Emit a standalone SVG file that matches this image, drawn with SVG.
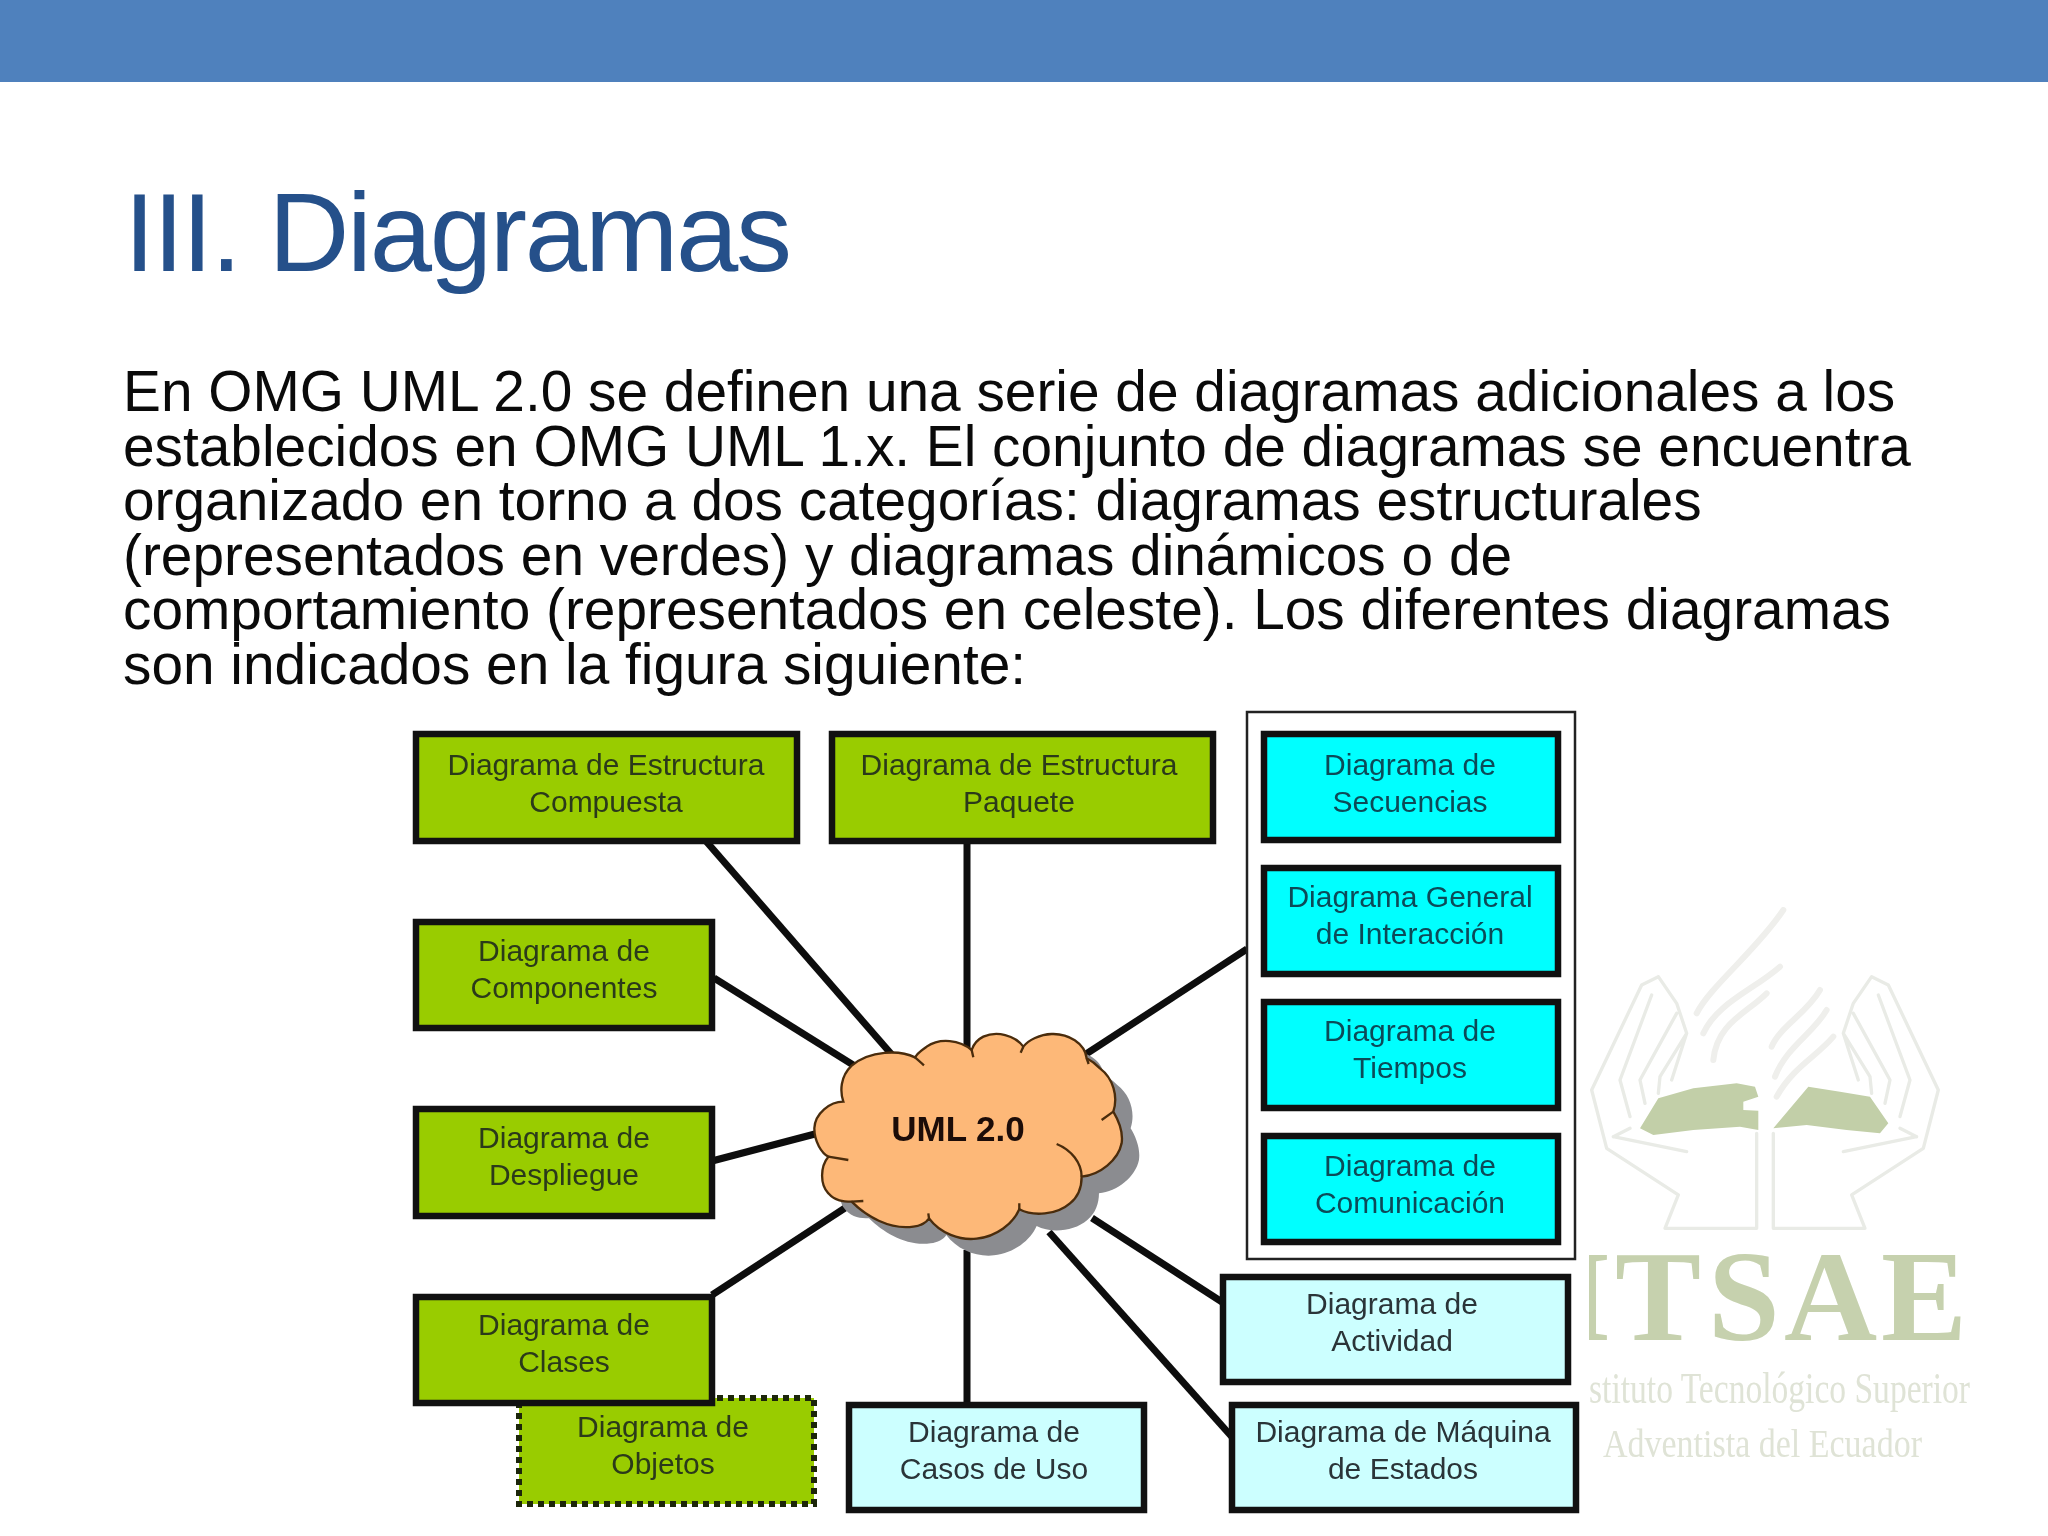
<svg xmlns="http://www.w3.org/2000/svg" width="2048" height="1536" viewBox="0 0 2048 1536">
<style>
.body{font:56.8px "Liberation Sans",Arial,sans-serif;fill:#0a0a0a}
.b{stroke:#111;stroke-width:6.5}
.g{fill:#99cc00}.c{fill:#00ffff}.l{fill:#ccffff}
.t{font:30px "Liberation Sans",Arial,sans-serif;text-anchor:middle;fill:#2b3a1a}
.tc{fill:#0c4a58}.tl{fill:#2a3438}
.con line{stroke:#0d0d0d;stroke-width:7}
.wm{fill:none;stroke:#e9ebe6;stroke-width:10;stroke-linejoin:round;stroke-linecap:round}
.fl{stroke:#efefec;stroke-width:18}
.wt{font-family:"Liberation Serif","Times New Roman",serif;fill:#dfe3d6}
</style>
<defs>
<path id="cloudShape" d="M215 197C180 230 180 275 190 305C150 305 105 340 103 385C103 425 125 460 145 470C120 500 120 555 145 580C165 603 190 605 215 605C260 650 330 690 400 680C420 678 440 668 447 655C480 700 540 722 590 716C650 710 700 670 718 628C760 650 830 645 870 610C895 590 905 560 905 530C960 525 1015 480 1025 430C1030 395 1015 360 1000 335C1015 290 1000 235 960 205C945 190 930 180 920 175C915 130 865 100 815 102C780 103 745 120 730 140C705 105 650 92 610 110C590 120 580 135 575 150C540 120 480 112 440 140C425 150 412 162 405 172C360 150 270 150 215 197Z"/>
<clipPath id="wmClip"><rect x="1589" y="1200" width="459" height="300"/></clipPath>
<filter id="soft" x="-10%" y="-10%" width="120%" height="120%"><feGaussianBlur stdDeviation="1.5"/></filter>
<g id="hand"><path class="wm" d="M530 700V985H255L295 885L80 745L35 570L185 255L235 230L290 310L320 400L275 540M215 285L120 540L150 650M290 340L180 540L195 610M320 400L240 530L235 580M100 710L320 755M100 710L150 685"/></g>
</defs>
<rect width="2048" height="1536" fill="#fff"/>
<rect id="header" width="2048" height="82" fill="#4f81bd"/>
<text id="title" x="124" y="271" font-family="Liberation Sans, Arial, sans-serif" font-size="112" textLength="668" lengthAdjust="spacing" fill="#25508a">III. Diagramas</text>
<g id="body">
<text class="body" x="123" y="411">En OMG UML 2.0 se definen una serie de diagramas adicionales a los</text>
<text class="body" x="123" y="465.6">establecidos en OMG UML 1.x. El conjunto de diagramas se encuentra</text>
<text class="body" x="123" y="520.2">organizado en torno a dos categorías: diagramas estructurales</text>
<text class="body" x="123" y="574.8">(representados en verdes) y diagramas dinámicos o de</text>
<text class="body" x="123" y="629.4">comportamiento (representados en celeste). Los diferentes diagramas</text>
<text class="body" x="123" y="684">son indicados en la figura siguiente:</text>
</g>
<g id="watermark">
<g transform="translate(1580 900) scale(.3333)" filter="url(#soft)">
<use href="#hand"/>
<use href="#hand" transform="matrix(-1 0 0 1 1110 0)"/>
<path class="wm fl" d="M350 340C390 260 530 150 610 30M370 400C410 310 520 270 600 200M400 480C410 370 500 340 560 280M575 440C600 380 680 340 720 270M585 530C620 440 700 400 740 330M590 590C640 500 710 470 760 410"/>
<path fill="#c2cfa8" d="M180 685L235 595L340 565L470 550L525 560L535 590L490 605V630L535 632V690L480 680L340 690L220 705Z"/>
<path fill="#c2cfa8" d="M580 685L685 560L780 575L870 590L925 670L900 700L800 690L680 675Z"/>
</g>
<text clip-path="url(#wmClip)" x="1561 1615 1708 1784 1881" y="1340" font-family="Liberation Serif, Times New Roman, serif" font-weight="700" font-size="129" fill="#c6d1ae">ITSAE</text>
<text class="wt" x="1589" y="1403" font-size="45" textLength="381" lengthAdjust="spacingAndGlyphs">stituto Tecnológico Superior</text>
<text class="wt" x="1603" y="1457" font-size="41" textLength="319" lengthAdjust="spacingAndGlyphs">Adventista del Ecuador</text>
</g>
<g id="connectors" class="con">
<line x1="705" y1="840" x2="893" y2="1056"/>
<line x1="714" y1="978" x2="858" y2="1068"/>
<line x1="967" y1="842" x2="967" y2="1056"/>
<line x1="1083" y1="1056" x2="1247" y2="949"/>
<line x1="712" y1="1161" x2="815" y2="1134"/>
<line x1="712" y1="1295" x2="845" y2="1208"/>
<line x1="967" y1="1250" x2="967" y2="1404"/>
<line x1="1092" y1="1218" x2="1222" y2="1302"/>
<line x1="1049" y1="1232" x2="1232" y2="1437"/>
</g>
<g id="n-estados"><rect class="l b" x="1232" y="1405" width="344" height="105"/><text class="t tl" x="1403" y="1442">Diagrama de Máquina</text><text class="t tl" x="1403" y="1479">de Estados</text></g>
<g id="n-actividad"><rect class="l b" x="1223" y="1277" width="345" height="105"/><text class="t tl" x="1392" y="1314">Diagrama de</text><text class="t tl" x="1392" y="1351">Actividad</text></g>
<rect id="grupo-interaccion" x="1247" y="712" width="328" height="547" fill="#fff" stroke="#222" stroke-width="2.5"/>
<g id="n-secuencias"><rect class="c b" x="1264" y="734" width="294" height="106"/><text class="t tc" x="1410" y="775">Diagrama de</text><text class="t tc" x="1410" y="812">Secuencias</text></g>
<g id="n-interaccion"><rect class="c b" x="1264" y="868" width="294" height="106"/><text class="t tc" x="1410" y="907">Diagrama General</text><text class="t tc" x="1410" y="944">de Interacción</text></g>
<g id="n-tiempos"><rect class="c b" x="1264" y="1002" width="294" height="106"/><text class="t tc" x="1410" y="1041">Diagrama de</text><text class="t tc" x="1410" y="1078">Tiempos</text></g>
<g id="n-comunicacion"><rect class="c b" x="1264" y="1136" width="294" height="106"/><text class="t tc" x="1410" y="1176">Diagrama de</text><text class="t tc" x="1410" y="1213">Comunicación</text></g>
<g id="n-objetos"><rect class="g" x="519" y="1398" width="295" height="106" stroke="#1c260a" stroke-width="6" stroke-dasharray="6 5"/><text class="t" x="663" y="1437">Diagrama de</text><text class="t" x="663" y="1474">Objetos</text></g>
<g id="n-compuesta"><rect class="g b" x="416" y="734" width="381" height="107"/><text class="t" x="606" y="775">Diagrama de Estructura</text><text class="t" x="606" y="812">Compuesta</text></g>
<g id="n-paquete"><rect class="g b" x="832" y="734" width="381" height="107"/><text class="t" x="1019" y="775">Diagrama de Estructura</text><text class="t" x="1019" y="812">Paquete</text></g>
<g id="n-componentes"><rect class="g b" x="416" y="922" width="296" height="106"/><text class="t" x="564" y="961">Diagrama de</text><text class="t" x="564" y="998">Componentes</text></g>
<g id="n-despliegue"><rect class="g b" x="416" y="1109" width="296" height="107"/><text class="t" x="564" y="1148">Diagrama de</text><text class="t" x="564" y="1185">Despliegue</text></g>
<g id="n-clases"><rect class="g b" x="416" y="1297" width="296" height="106"/><text class="t" x="564" y="1335">Diagrama de</text><text class="t" x="564" y="1372">Clases</text></g>
<g id="n-casos"><rect class="l b" x="849" y="1405" width="295" height="105"/><text class="t tl" x="994" y="1442">Diagrama de</text><text class="t tl" x="994" y="1479">Casos de Uso</text></g>
<g id="n-uml">
<g transform="translate(780 1000) scale(.3333)">
<use href="#cloudShape" transform="translate(52 50)" fill="#8b8c90" filter="url(#soft)"/>
<use href="#cloudShape" fill="#fdb878" stroke="#4a2c0c" stroke-width="7"/>
<path fill="none" stroke="#4a2c0c" stroke-width="7" d="M405 172L432 196M575 150L580 172M730 140L722 158M920 175L926 192M1000 335L965 360M830 432C875 450 905 490 905 530M718 610V628M447 655L445 640M250 603L215 605M205 480L145 470"/>
</g>
<text x="958" y="1141" font-family="Liberation Sans, Arial, sans-serif" font-weight="700" font-size="35" text-anchor="middle" fill="#1c0c08">UML 2.0</text>
</g>
</svg>
